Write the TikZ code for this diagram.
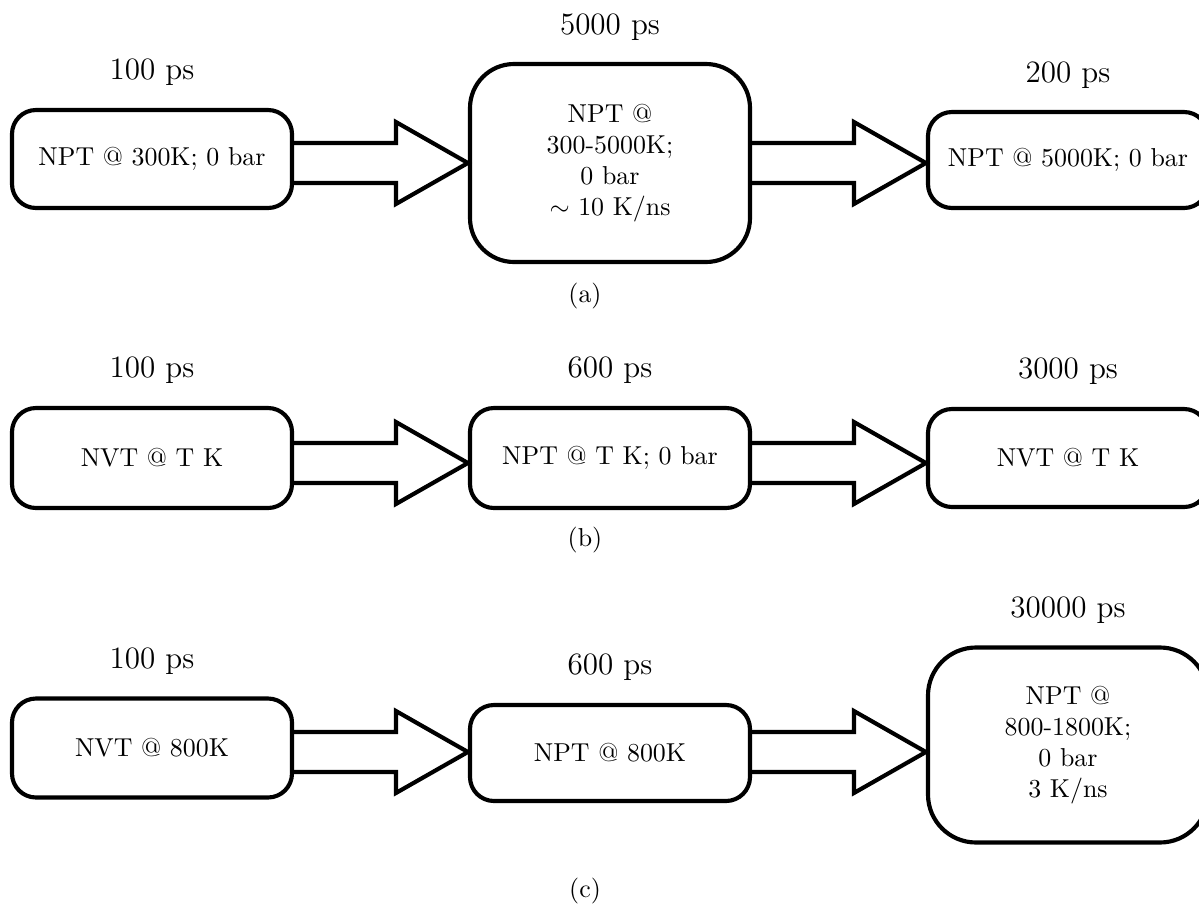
\documentclass[tikz,border=0pt]{standalone}
\usetikzlibrary{calc}
\def\pxu{0.3861pt}
\begin{document}
\begin{tikzpicture}[x=0.3861pt, y=-0.3861pt,
  stage/.style={draw, line width=1.6pt, rounded corners=24*\pxu, minimum width=280*\pxu, inner sep=0pt, align=center, font=\normalsize},
  lab/.style={font=\large, anchor=base, inner sep=0pt},
  subcap/.style={font=\normalsize, inner sep=0pt},
  fat/.style={draw, line width=1.6pt, line join=miter}]
\useasboundingbox (0,0) rectangle (1199,909);
% ---------- row (a)
\node[stage, minimum height=98*\pxu] (a1) at (152,159) {NPT @ 300K; 0 bar};
\node[stage, minimum height=198*\pxu, rounded corners=44*\pxu] (a2) at (610,163) {NPT @\\300-5000K;\\0 bar\\$\sim$ 10 K/ns};
\node[stage, minimum height=96*\pxu] (a3) at (1068,160) {NPT @ 5000K; 0 bar};
\node[lab] (la1) at ($(a1.north)+(0,-28)$) {100 ps};
\node[lab] (la2) at ($(a2.north)+(0,-27)$) {5000 ps};
\node[lab] (la3) at ($(a3.north)+(0,-27)$) {200 ps};
\node[subcap] (ca) at (585,296) {(a)};
% ---------- row (b)
\node[stage, minimum height=100*\pxu] (b1) at (152,458) {NVT @ T K};
\node[stage, minimum height=100*\pxu] (b2) at (610,458) {NPT @ T K; 0 bar};
\node[stage, minimum height=98*\pxu] (b3) at (1068,458) {NVT @ T K};
\node[lab] (lb1) at ($(b1.north)+(0,-28)$) {100 ps};
\node[lab] (lb2) at ($(b2.north)+(0,-28)$) {600 ps};
\node[lab] (lb3) at ($(b3.north)+(0,-28)$) {3000 ps};
\node[subcap] (cb) at (585,540) {(b)};
% ---------- row (c)
\node[stage, minimum height=99*\pxu] (c1) at (152,748) {NVT @ 800K};
\node[stage, minimum height=96*\pxu] (c2) at (610,753) {NPT @ 800K};
\node[stage, minimum height=195*\pxu, rounded corners=48*\pxu] (c3) at (1068,745) {NPT @\\800-1800K;\\0 bar\\3 K/ns};
\node[lab] (lc1) at ($(c1.north)+(0,-28)$) {100 ps};
\node[lab] (lc2) at ($(c2.north)+(0,-28)$) {600 ps};
\node[lab] (lc3) at ($(c3.north)+(0,-28)$) {30000 ps};
\node[subcap] (cc) at (585,891) {(c)};
% ---------- arrow tips
\coordinate (ta1) at ($(a2.west)$);
\coordinate (ta2) at ($(a3.west|-a2.west)$);
\coordinate (tb1) at ($(b2.west)+(0,5)$);
\coordinate (tb2) at ($(b3.west|-tb1)$);
\coordinate (tc1) at ($(c2.west)+(0,-1)$);
\coordinate (tc2) at ($(c3.west|-tc1)$);
% ---------- fat arrows
\foreach \s/\t in {a1/ta1, a2/ta2, b1/tb1, b2/tb2, c1/tc1, c2/tc2}{
  \draw[fat] ($(\s.east|-\t)+(0,-20)$) -- ($(\t)+(-72,-20)$) -- ($(\t)+(-72,-41)$) -- (\t)
    -- ($(\t)+(-72,41)$) -- ($(\t)+(-72,20)$) -- ($(\s.east|-\t)+(0,20)$);
}
\end{tikzpicture}
\end{document}
